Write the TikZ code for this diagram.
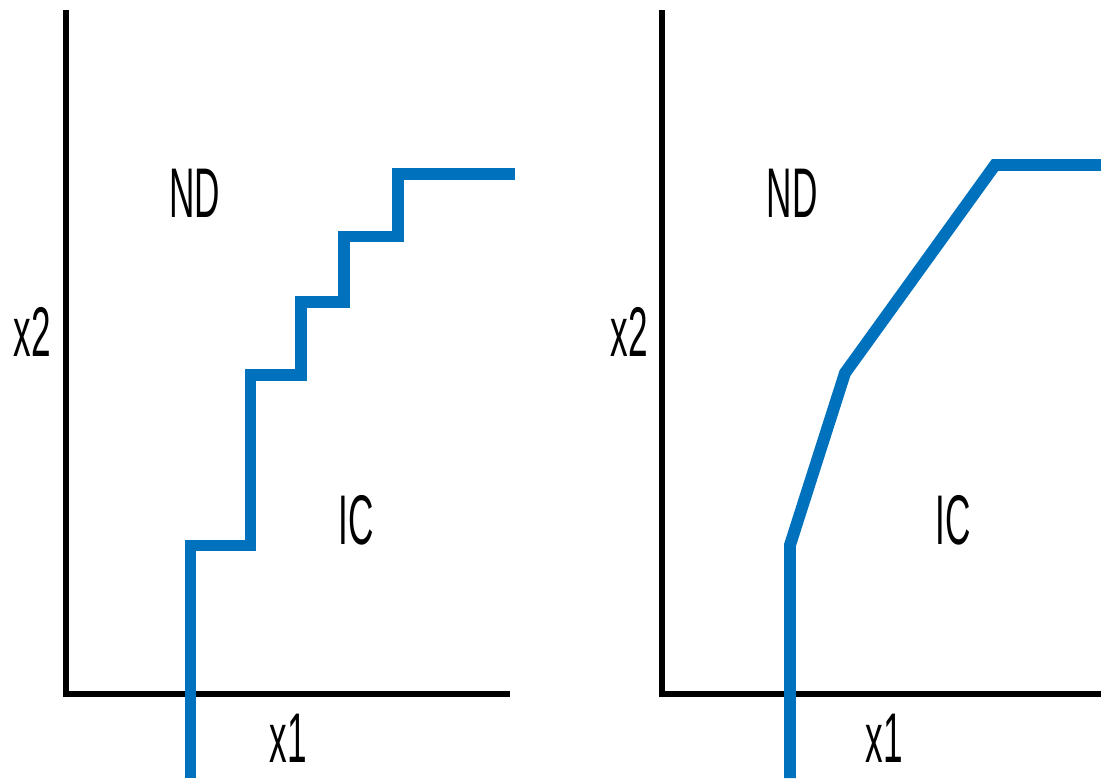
\documentclass[tikz,border=0pt]{standalone}
\usepackage{fontspec}
\setmainfont{Liberation Sans}
\definecolor{curveblue}{RGB}{0,114,189}
\begin{document}
\begin{tikzpicture}[x=0.01cm,y=-0.01cm,
  axis/.style={draw=black,line width=1.5pt},
  curve/.style={draw=curveblue,line width=3.4pt,line join=miter},
  lbl/.style={font=\fontsize{20pt}{24pt}\selectfont,xscale=0.5,inner sep=0pt,anchor=center}]
\useasboundingbox (0,0) rectangle (1101,778);
% left panel
\coordinate (LO) at (66,694);
\coordinate (LT) at (66,10);
\coordinate (LR) at (510,694);
\draw[axis] (LT) -- (LO) -- (LR);
\coordinate (a0) at (190.5,778);
\coordinate (a1) at (190.5,545.5);
\coordinate (a2) at (250.5,545.5);
\coordinate (a3) at (250.5,375);
\coordinate (a4) at (301,375);
\coordinate (a5) at (301,302);
\coordinate (a6) at (344,302);
\coordinate (a7) at (344,236.5);
\coordinate (a8) at (398,236.5);
\coordinate (a9) at (398,174);
\coordinate (a10) at (515,174);
\draw[curve] (a0) -- (a1) -- (a2) -- (a3) -- (a4) -- (a5) -- (a6) -- (a7) -- (a8) -- (a9) -- (a10);
\node[lbl] (ndL) at (195,193) {ND};
\node[lbl] (icL) at (356,520) {IC};
\node[lbl] (x2L) at (32,332) {x2};
\node[lbl] (x1L) at (288,738) {x1};
% right panel
\coordinate (RO) at (662,694);
\coordinate (RT) at (662,10);
\coordinate (RR) at (1101,694);
\draw[axis] (RT) -- (RO) -- (RR);
\coordinate (b0) at (790,778);
\coordinate (b1) at (790,545);
\coordinate (b2) at (845,373);
\coordinate (b3) at (995,165);
\coordinate (b4) at (1101,165);
\draw[curve] (b0) -- (b1) -- (b2) -- (b3) -- (b4);
\node[lbl] (ndR) at (792,193) {ND};
\node[lbl] (icR) at (953,520) {IC};
\node[lbl] (x2R) at (629,332) {x2};
\node[lbl] (x1R) at (884,738) {x1};
\end{tikzpicture}
\end{document}
